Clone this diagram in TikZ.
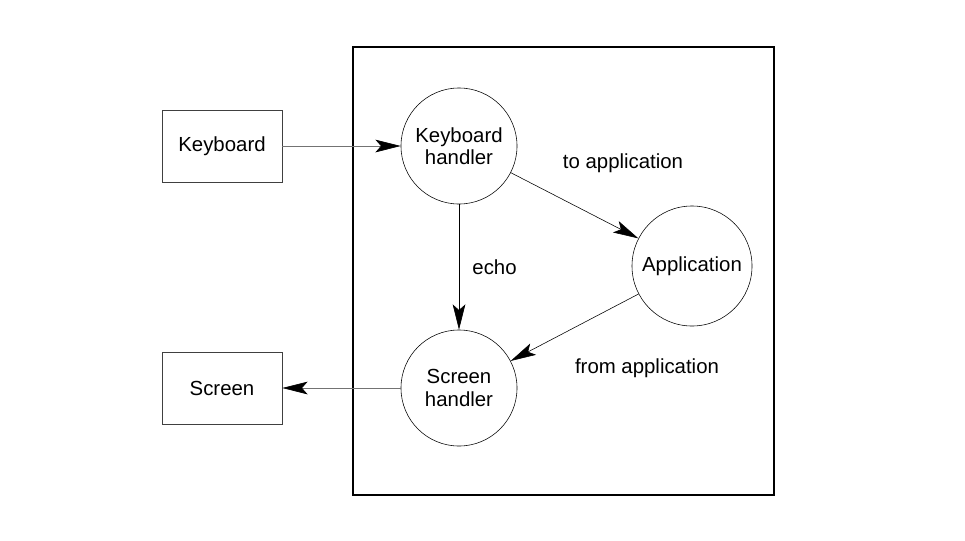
\documentclass[tikz,border=0pt]{standalone}
\usepackage{fontspec}
\setmainfont{Liberation Sans}
\usetikzlibrary{arrows.meta}

\begin{document}
\begin{tikzpicture}
		[x=0.025cm,y=-0.025cm,line cap=round,
		font=\fontsize{14.5}{16}\selectfont,
		%Styles
		device/.style={draw=devicecolor,thin,minimum width=3cm,minimum height=1.8cm},
		handler/.style={circle,draw,thin,inner sep=0pt,minimum size=#1,align=center},
		flow/.style={thin,-{Stealth[length=18pt,width=9pt,inset=4pt]}},
		io flow/.style={thin,draw=iocolor,-{Stealth[length=18pt,width=9pt,inset=4pt,black]}},
		frame line/.style={line width=1.8pt}
		]
		
		%Colors
		\colorlet{devicecolor}{black!75}	%device boxes
		\colorlet{iocolor}{black!55}	%keyboard/screen lines
		
		\useasboundingbox (0,0) rectangle (965,540);
		
		%The graphic
		\draw[frame line] (353,47) rectangle (774,495);
		
		\node[device] (kbd) at (222,146) {Keyboard};
		\node[device] (scr) at (222,388) {Screen};
		
		\node[handler=2.9cm] (kh) at (459,146) {Keyboard\\handler};
		\node[handler=3cm] (app) at (692,266) {Application};
		\node[handler=2.9cm] (sh) at (459,388) {Screen\\handler};
		
		\draw[io flow] (kbd) -- (kh);
		\draw[io flow] (sh) -- (scr);
		\draw[flow] (kh) -- node[right=6pt] {echo} (sh);
		\draw[flow] (kh) -- (app);
		\draw[flow] (app) -- (sh);
		
		\node (to) at (623,163) {to application};
		\node (from) at (647,368) {from application};
	\end{tikzpicture}
\end{document}
